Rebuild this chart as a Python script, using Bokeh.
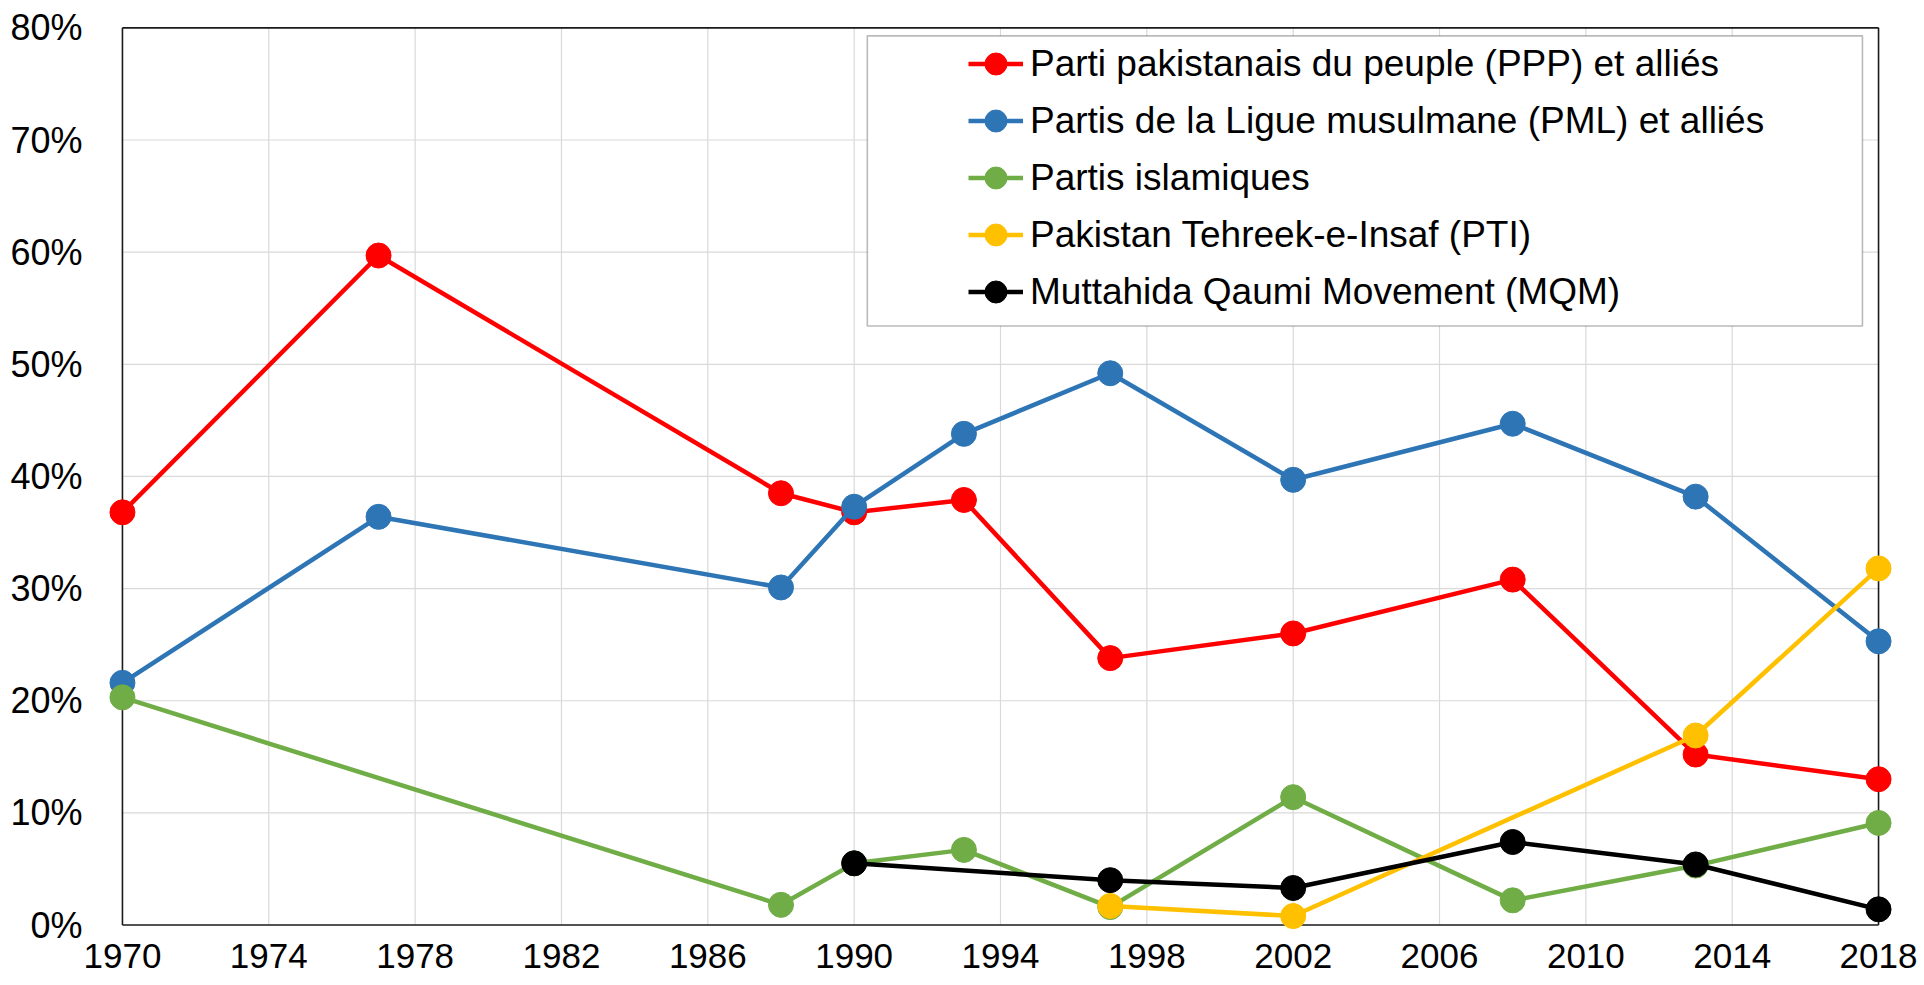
from bokeh.plotting import figure
from bokeh.models import (Range1d, FixedTicker, PrintfTickFormatter, Legend,
                          LegendItem, BoxAnnotation)
from bokeh.embed import file_html
from bokeh.resources import INLINE

# ---- data (vote share, %) ----
ppp_years = [1970, 1977, 1988, 1990, 1993, 1997, 2002, 2008, 2013, 2018]
ppp_vals = [36.8, 59.7, 38.5, 36.8, 37.9, 23.8, 26.0, 30.8, 15.2, 13.0]

pml_years = [1970, 1977, 1988, 1990, 1993, 1997, 2002, 2008, 2013, 2018]
pml_vals = [21.6, 36.4, 30.1, 37.3, 43.8, 49.2, 39.7, 44.7, 38.2, 25.3]

isl_years = [1970, 1988, 1990, 1993, 1997, 2002, 2008, 2013, 2018]
isl_vals = [20.3, 1.8, 5.5, 6.7, 1.6, 11.4, 2.2, 5.3, 9.1]

pti_years = [1997, 2002, 2013, 2018]
pti_vals = [1.7, 0.8, 16.9, 31.8]

mqm_years = [1990, 1997, 2002, 2008, 2013, 2018]
mqm_vals = [5.5, 4.0, 3.3, 7.4, 5.4, 1.4]

series = [
    ("Parti pakistanais du peuple (PPP) et alliés", ppp_years, ppp_vals, "#FF0000"),
    ("Partis de la Ligue musulmane (PML) et alliés", pml_years, pml_vals, "#2E75B6"),
    ("Partis islamiques", isl_years, isl_vals, "#70AD47"),
    ("Pakistan Tehreek-e-Insaf (PTI)", pti_years, pti_vals, "#FFC000"),
    ("Muttahida Qaumi Movement (MQM)", mqm_years, mqm_vals, "#000000"),
]

x_ticks = list(range(1970, 2019, 4))
y_ticks = list(range(0, 81, 10))

FONT = "Liberation Sans"
X0, X1 = x_ticks[0], x_ticks[-1]
Y0, Y1 = y_ticks[0], y_ticks[-1]

# ranges padded slightly so edge markers are not clipped by the frame
p = figure(frame_width=1800, frame_height=905, output_backend="svg",
           toolbar_location=None,
           x_range=Range1d(X0 - 0.6, X1 + 0.6), y_range=Range1d(Y0 - 0.4, Y1 + 0.3),
           min_border_left=100, min_border_right=22, min_border_top=24,
           min_border_bottom=55)

p.background_fill_color = "white"
p.border_fill_color = "white"
p.outline_line_color = None
p.grid.visible = False

for ax, ticks, fs in ((p.xaxis[0], x_ticks, "35px"), (p.yaxis[0], y_ticks, "36px")):
    ax.ticker = FixedTicker(ticks=ticks)
    ax.major_tick_line_color = None
    ax.minor_tick_line_color = None
    ax.axis_line_color = None
    ax.major_label_text_font = FONT
    ax.major_label_text_font_size = fs
    ax.major_label_text_color = "black"

p.yaxis[0].formatter = PrintfTickFormatter(format="%d%%")
p.yaxis[0].major_label_standoff = 12
p.xaxis[0].major_label_standoff = 8

# gridlines spanning exactly the plot area
inner_x = x_ticks[1:-1]
inner_y = y_ticks[1:-1]
p.segment(x0=inner_x, y0=[Y0] * len(inner_x), x1=inner_x, y1=[Y1] * len(inner_x),
          line_color="#D9D9D9", line_width=1.2)
p.segment(x0=[X0] * len(inner_y), y0=inner_y, x1=[X1] * len(inner_y), y1=inner_y,
          line_color="#D9D9D9", line_width=1.2)
# plot-area frame
p.segment(x0=[X0, X1, X0, X0], y0=[Y0, Y0, Y0, Y1],
          x1=[X0, X1, X1, X1], y1=[Y1, Y1, Y0, Y1],
          line_color="#1a1a1a", line_width=1.6)

items = []
for name, xs, ys, col in series:
    r1 = p.line(xs, ys, line_color=col, line_width=4.5)
    r2 = p.scatter(xs, ys, marker="circle", size=25, fill_color=col, line_color=col)
    items.append(LegendItem(label=name, renderers=[r1, r2]))

# legend frame (white box with black border)
box = BoxAnnotation(left=1990.36, right=2017.56, top=79.29, bottom=53.42,
                    fill_color="white", fill_alpha=1.0,
                    line_color="#1a1a1a", line_width=1.6)
p.add_layout(box)

legend = Legend(items=items, location=(868, 610), padding=0, margin=0,
                spacing=2, glyph_width=55, glyph_height=55, label_height=55,
                label_standoff=7, label_text_font=FONT,
                label_text_font_size="37px", label_text_color="black",
                border_line_color=None, background_fill_alpha=0)
p.add_layout(legend, "center")

open("out.html", "w").write(file_html(p, INLINE))
